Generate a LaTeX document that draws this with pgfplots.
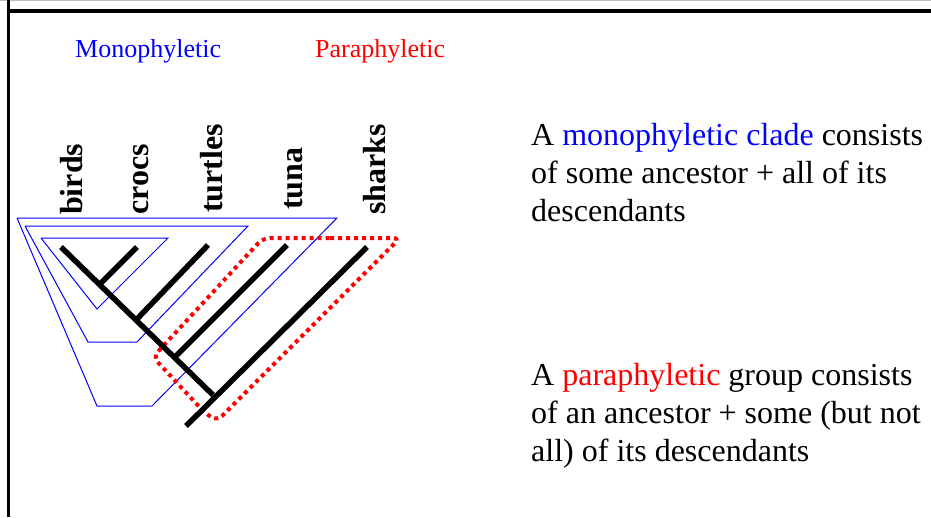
\documentclass[border=0pt]{standalone}
\usepackage{pgfplots}
\pgfplotsset{compat=1.18}
\usepackage{fontspec}
\setmainfont{Liberation Serif}

\newcommand{\slidefont}{\fontsize{32}{38}\selectfont}

\begin{document}
\begin{tikzpicture}
\begin{axis}[
  width=931pt, height=517pt, scale only axis,
  xmin=0, xmax=931, ymin=0, ymax=517, y dir=reverse,
  hide axis, clip=false,
]
% slide frame
\addplot[gray!50, line width=1pt] coordinates {(0,0.5) (931,0.5)};
\addplot[black, line width=4pt] coordinates {(7,10.5) (931,10.5)};
\addplot[black, line width=3pt] coordinates {(8.5,0) (8.5,517)};

% monophyletic clades
\addplot[blue, line width=1pt] coordinates {(41,238) (168,238) (97,309) (41,238)};
\addplot[blue, line width=1pt] coordinates {(25,226) (248,226) (137,342) (88,342) (25,226)};
\addplot[blue, line width=1pt] coordinates {(17,218) (337,218) (152,406) (97,406) (17,218)};

% paraphyletic group
\addplot[red, line width=4pt, dash pattern=on 4pt off 4pt, rounded corners=7pt]
  coordinates {(330,238) (400,238) (217,421) (205,413) (153,357) (263,238) (330,238)};

% tree
\addplot[black, line width=5.5pt] coordinates {(61,247) (213,395)};
\addplot[black, line width=5.5pt] coordinates {(367,247) (186,426)};
\addplot[black, line width=5.5pt] coordinates {(137,247) (100,284)};
\addplot[black, line width=5.5pt] coordinates {(208,245) (137,319)};
\addplot[black, line width=5.5pt] coordinates {(287,245) (175,357)};

% taxa
\begin{scope}[every node/.style={rotate=90, anchor=base west, inner sep=0pt, font=\slidefont\bfseries}]
\node at (axis cs:82,215) {birds};
\node at (axis cs:148,215) {crocs};
\node at (axis cs:222,213) {turtles};
\node at (axis cs:302,210) {tuna};
\node at (axis cs:385,215) {sharks};
\end{scope}

% headings
\node[anchor=base west, inner sep=0pt, font=\fontsize{26}{30}\selectfont, text=blue] at (axis cs:75,57) {Monophyletic};
\node[anchor=base west, inner sep=0pt, font=\fontsize{26}{30}\selectfont, text=red] at (axis cs:315,57) {Paraphyletic};

% explanations
\begin{scope}[every node/.style={anchor=base west, inner sep=0pt, font=\slidefont}]
\node at (axis cs:531,145) {A \textcolor{blue}{monophyletic clade} consists};
\node at (axis cs:531,183) {of some ancestor + all of its};
\node at (axis cs:531,221) {descendants};
\node at (axis cs:531,385) {A \textcolor{red}{paraphyletic} group consists};
\node at (axis cs:531,423) {of an ancestor + some (but not};
\node at (axis cs:531,461) {all) of its descendants};
\end{scope}
\end{axis}
\pgfresetboundingbox
\useasboundingbox (current axis.south west) rectangle (current axis.north east);
\end{tikzpicture}
\end{document}
